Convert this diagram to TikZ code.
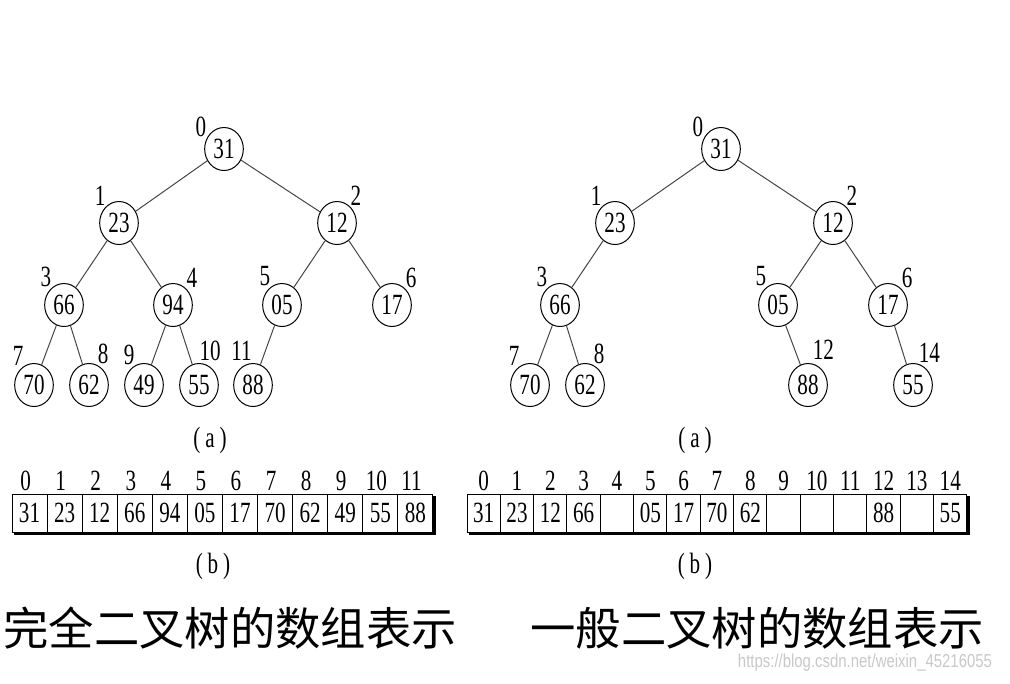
\documentclass[tikz,border=0pt]{standalone}
\usepackage{fontspec}
\setmainfont{Liberation Serif}
\newfontfamily\digitfont[FakeStretch=0.72]{Liberation Serif}
\newfontfamily\cjkfont{Noto Sans CJK SC}
\newfontfamily\markfont[FakeStretch=0.8]{Liberation Sans}
\usetikzlibrary{shapes.geometric,backgrounds}
\definecolor{edgegray}{RGB}{70,70,70}
\definecolor{markgray}{RGB}{200,200,200}
\tikzset{
  key/.style={
    ellipse,
    draw=black,
    line width=0.75pt,
    minimum width=29pt,
    minimum height=32.25pt,
    inner sep=0pt,
    font=\digitfont\fontsize{22}{22}\selectfont
  },
  idx/.style={inner sep=0pt, label distance=0.5pt, font=\digitfont\fontsize{22}{22}\selectfont},
  link/.style={draw=edgegray, line width=0.75pt},
  cell/.style={draw=black, line width=0.75pt, fill=white, minimum height=28.5pt,
    inner sep=0pt, font=\digitfont\fontsize{22}{22}\selectfont},
  caption/.style={inner sep=0pt, font=\digitfont\fontsize{22}{22}\selectfont},
  title/.style={inner sep=0pt, font=\cjkfont\fontsize{34}{34}\selectfont}
}

\begin{document}
\begin{tikzpicture}[x=0.75pt, y=-0.75pt]
  \useasboundingbox (0,0) rectangle (1010,683);

  % complete binary tree
  \node[key, label={[idx]146:0}] (a0) at (224,149) {31};
  \node[key, label={[idx]128:1}] (a1) at (119,223) {23};
  \node[key, label={[idx]52:2}] (a2) at (337,223) {12};
  \node[key, label={[idx]125:3}] (a3) at (64,305) {66};
  \node[key, label={[idx]52:4}] (a4) at (173,305) {94};
  \node[key, label={[idx]122:5}] (a5) at (282,305) {05};
  \node[key, label={[idx]51:6}] (a6) at (392,305) {17};
  \node[key, label={[idx]118:7}] (a7) at (34,385) {70};
  \node[key, label={[idx]67:8}] (a8) at (89,385) {62};
  \node[key, label={[idx]115:9}] (a9) at (144,385) {49};
  \node[key, label={[idx, label distance=2pt, xshift=-3pt]80:10}] (a10) at (199,385) {55};
  \node[key, label={[idx, label distance=2pt, xshift=3pt]102:11}] (a11) at (253,385) {88};
  \foreach \p/\c in {a0/a1,a0/a2,a1/a3,a1/a4,a2/a5,a2/a6,a3/a7,a3/a8,a4/a9,a4/a10,a5/a11}
    \draw[link] (\p) -- (\c);
  \node[caption] (capa1) at (210,440) {(\,a\,)};

  % general binary tree
  \node[key, label={[idx]146:0}] (b0) at (721,149) {31};
  \node[key, label={[idx]128:1}] (b1) at (615,223) {23};
  \node[key, label={[idx]52:2}] (b2) at (833,223) {12};
  \node[key, label={[idx]125:3}] (b3) at (560,305) {66};
  \node[key, label={[idx]122:5}] (b5) at (778,305) {05};
  \node[key, label={[idx]51:6}] (b6) at (888,305) {17};
  \node[key, label={[idx]118:7}] (b7) at (530,385) {70};
  \node[key, label={[idx]67:8}] (b8) at (585,385) {62};
  \node[key, label={[idx, label distance=3pt]80:12}] (b12) at (808,385) {88};
  \node[key, label={[idx, label distance=1pt]76:14}] (b14) at (913,385) {55};
  \foreach \p/\c in {b0/b1,b0/b2,b1/b3,b2/b5,b2/b6,b3/b7,b3/b8,b5/b12,b6/b14}
    \draw[link] (\p) -- (\c);
  \node[caption] (capa2) at (695,440) {(\,a\,)};

  % arrays
  \foreach \v [count=\i from 0] in {31,23,12,66,94,05,17,70,62,49,55,88}
    \node[cell, minimum width=26.31pt,
      label={[idx, xshift=-3pt, label distance=2pt]above:\i}] (p\i) at ({12+35.08*(\i+0.5)},513) {\v};
  \foreach \v [count=\i from 0] in {31,23,12,66,{},05,17,70,62,{},{},{},88,{},55}
    \node[cell, minimum width=25pt,
      label={[idx, label distance=2pt]above:\i}] (q\i) at ({467+33.33*(\i+0.5)},513) {\v};
  \begin{scope}[on background layer]
    \fill[black] ([shift={(2.5,2.5)}]p0.north west) rectangle ([shift={(2.5,2.5)}]p11.south east);
    \fill[black] ([shift={(2.5,2.5)}]q0.north west) rectangle ([shift={(2.5,2.5)}]q14.south east);
  \end{scope}
  \node[caption] (capb1) at (213,566) {(\,b\,)};
  \node[caption] (capb2) at (695,566) {(\,b\,)};

  % titles
  \node[title] (full) at (230,628) {完全二叉树的数组表示};
  \node[title] (general) at (757,628) {一般二叉树的数组表示};
  \node[inner sep=0pt, text=markgray, font=\markfont\fontsize{14}{14}\selectfont] (mark) at (865,663)
    {https://blog.csdn.net/weixin\_45216055};
\end{tikzpicture}
\end{document}
